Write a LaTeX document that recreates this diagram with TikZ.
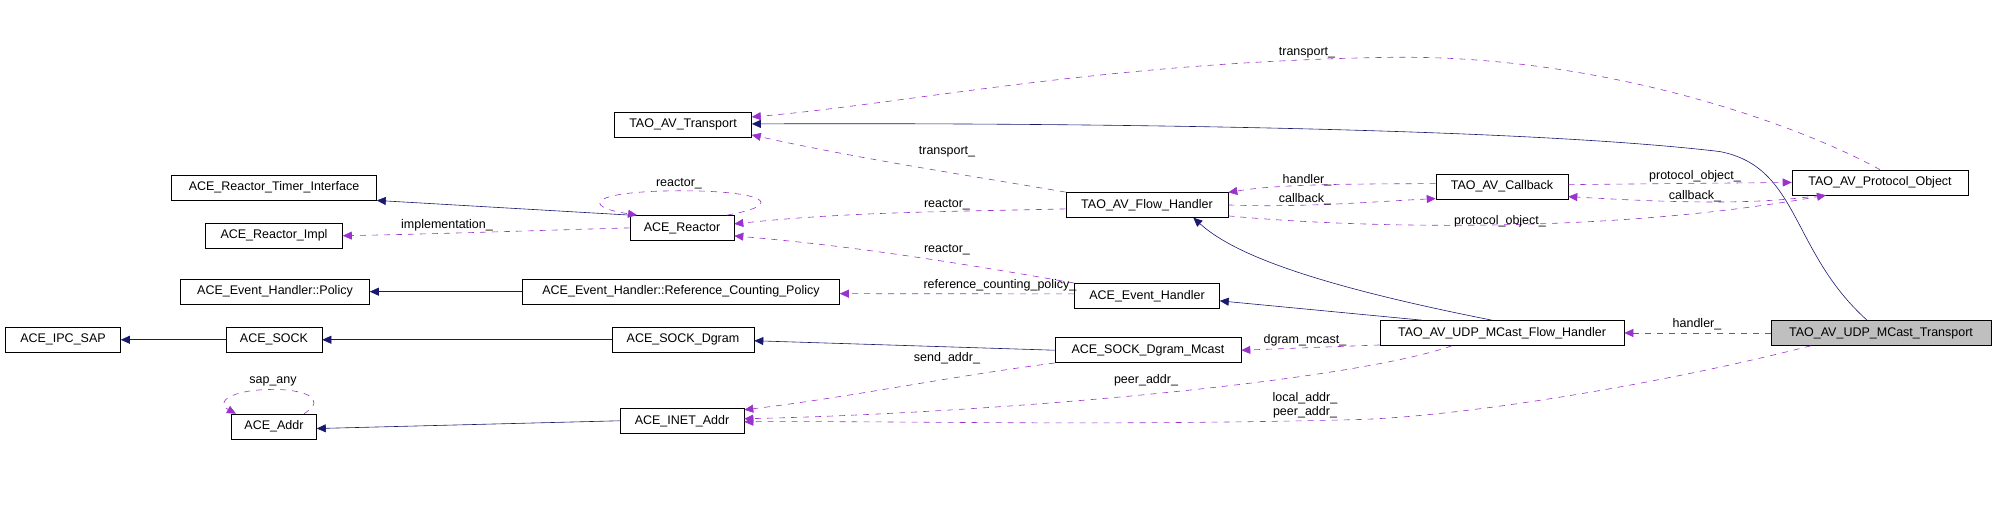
\documentclass[tikz,border=0pt]{standalone}
\usepackage{fontspec}
\setmainfont{Liberation Sans}
\usetikzlibrary{arrows.meta}
\definecolor{inh}{HTML}{191970}
\definecolor{use}{HTML}{9A32CD}
\begin{document}
\begin{tikzpicture}[x=1pt,y=-0.5227pt,
  box/.style={draw,semithick,minimum height=25pt,inner sep=0pt,font=\fontsize{12.5}{13}\selectfont},
  inhe/.style={draw=inh,semithick,-{Triangle[length=9pt,width=8pt,fill=inh]}},
  usee/.style={draw=use,semithick,dashed,dash pattern=on 6pt off 6pt,-{Triangle[length=9pt,width=8pt,fill=use]}},
  lab/.style={font=\fontsize{12.5}{13}\selectfont,inner sep=1pt}]
\useasboundingbox (0,0) rectangle (1995,972);
\node[box,minimum width=137pt] (tr) at (683,239) {TAO\_AV\_Transport};
\node[box,minimum width=205pt] (rti) at (274,359) {ACE\_Reactor\_Timer\_Interface};
\node[box,minimum width=137pt] (rimpl) at (274,451) {ACE\_Reactor\_Impl};
\node[box,minimum width=104pt] (re) at (682,436) {ACE\_Reactor};
\node[box,minimum width=189pt] (pol) at (275,558) {ACE\_Event\_Handler::Policy};
\node[box,minimum width=317pt] (rcp) at (681,558) {ACE\_Event\_Handler::Reference\_Counting\_Policy};
\node[box,minimum width=115pt] (ipc) at (63,650) {ACE\_IPC\_SAP};
\node[box,minimum width=96pt] (sock) at (274,650) {ACE\_SOCK};
\node[box,minimum width=142pt] (sd) at (683,650) {ACE\_SOCK\_Dgram};
\node[box,minimum width=85pt] (addr) at (274,816) {ACE\_Addr};
\node[box,minimum width=124pt] (inet) at (682,805) {ACE\_INET\_Addr};
\node[box,minimum width=162pt] (fh) at (1147,392) {TAO\_AV\_Flow\_Handler};
\node[box,minimum width=132pt] (cb) at (1502,357) {TAO\_AV\_Callback};
\node[box,minimum width=176pt] (po) at (1880,349) {TAO\_AV\_Protocol\_Object};
\node[box,minimum width=145pt] (eh) at (1147,566) {ACE\_Event\_Handler};
\node[box,minimum width=244pt] (ufh) at (1502,637) {TAO\_AV\_UDP\_MCast\_Flow\_Handler};
\node[box,minimum width=186pt] (sdm) at (1148,670) {ACE\_SOCK\_Dgram\_Mcast};
\node[box,minimum width=220pt,fill=black!25] (ut) at (1881,637) {TAO\_AV\_UDP\_MCast\_Transport};
% inheritance
\draw[inhe] (re.north west) -- (rti.south east);
\draw[inhe] (rcp) -- (pol);
\draw[inhe] (sock) -- (ipc);
\draw[inhe] (sd) -- (sock);
\draw[inhe] (sdm.west) -- ([yshift=-1pt]sd.east);
\draw[inhe] (inet.west) -- ([yshift=-2pt]addr.east);
\draw[inhe] ([xshift=-80pt]ufh.north) -- ([yshift=-5pt]eh.east);
\draw[inhe] ([xshift=-10pt]ufh.north) .. controls (1300,540) and (1230,480) .. ([xshift=-35pt]fh.south east);
\draw[inhe] ([xshift=-14pt]ut.north) .. controls (1790,480) and (1800,320) .. (1720,290) .. controls (1500,240) and (1000,235) .. ([yshift=1pt]tr.east);
% usage
\draw[usee] (po.north) .. controls (1800,240) and (1600,100) .. (1380,110) .. controls (1100,120) and (900,200) .. ([yshift=8pt]tr.east);
\node[lab] (l1) at (1307,101) {transport\_};
\draw[usee] (fh.north west) .. controls (950,330) and (850,300) .. ([yshift=-10pt]tr.east);
\node[lab] (l2) at (947,290) {transport\_};
\draw[usee] ([xshift=45pt]re.north) .. controls (790,390) and (760,365) .. (682,365) .. controls (590,365) and (580,395) .. ([xshift=-45pt]re.north);
\node[lab] (l3) at (679,352) {reactor\_};
\draw[usee] ([yshift=-4pt]fh.west) .. controls (950,405) and (850,405) .. ([yshift=4pt]re.east);
\node[lab] (l4) at (947,392) {reactor\_};
\draw[usee] (eh.north west) .. controls (950,500) and (850,470) .. ([yshift=-8pt]re.east);
\node[lab] (l5) at (947,477) {reactor\_};
\draw[usee] (re.west) .. controls (550,440) and (450,447) .. (rimpl.east);
\node[lab] (l6) at (447,431) {implementation\_};
\draw[usee] ([yshift=2pt]eh.west) -- ([yshift=-2pt]rcp.east);
\node[lab] (l7) at (1000,546) {reference\_counting\_policy\_};
\draw[usee] ([yshift=3pt]cb.west) .. controls (1350,352) and (1280,352) .. ([yshift=12.5pt]fh.east);
\node[lab] (l8) at (1307,344) {handler\_};
\draw[usee] (fh.east) .. controls (1300,398) and (1380,385) .. ([yshift=-12pt]cb.west);
\node[lab] (l9) at (1305,381) {callback\_};
\draw[usee] ([yshift=2pt]cb.east) -- (po.west);
\node[lab] (l10) at (1695,338) {protocol\_object\_};
\draw[usee] ([xshift=-60pt]po.south) .. controls (1750,395) and (1650,385) .. ([yshift=-10pt]cb.east);
\node[lab] (l11) at (1695,375) {callback\_};
\draw[usee] ([yshift=-11pt]fh.east) .. controls (1350,435) and (1600,450) .. ([xshift=-54pt]po.south);
\node[lab] (l12) at (1500,423) {protocol\_object\_};
\draw[usee] (ut.west) -- (ufh.east);
\node[lab] (l13) at (1697,620) {handler\_};
\draw[usee] ([yshift=-12pt]ufh.west) -- (sdm.east);
\node[lab] (l14) at (1305,651) {dgram\_mcast\_};
\draw[usee] (sdm.south west) .. controls (950,720) and (850,760) .. ([yshift=11pt]inet.east);
\node[lab] (l15) at (947,686) {send\_addr\_};
\draw[usee] ([xshift=-50pt]ufh.south) .. controls (1350,730) and (1000,790) .. ([yshift=2pt]inet.east);
\node[lab] (l16) at (1146,727) {peer\_addr\_};
\draw[usee] ([xshift=-70pt]ut.south) .. controls (1650,740) and (1450,800) .. (1350,803) .. controls (1100,815) and (900,805) .. ([yshift=-1pt]inet.east);
\node[lab,align=center] (l17) at (1305,775) {local\_addr\_\\[1pt]peer\_addr\_};
\draw[usee] ([xshift=30pt]addr.north) .. controls (330,760) and (300,745) .. (274,745) .. controls (230,745) and (215,770) .. ([xshift=-38pt]addr.north);
\node[lab] (l18) at (273,729) {sap\_any};
\end{tikzpicture}
\end{document}
